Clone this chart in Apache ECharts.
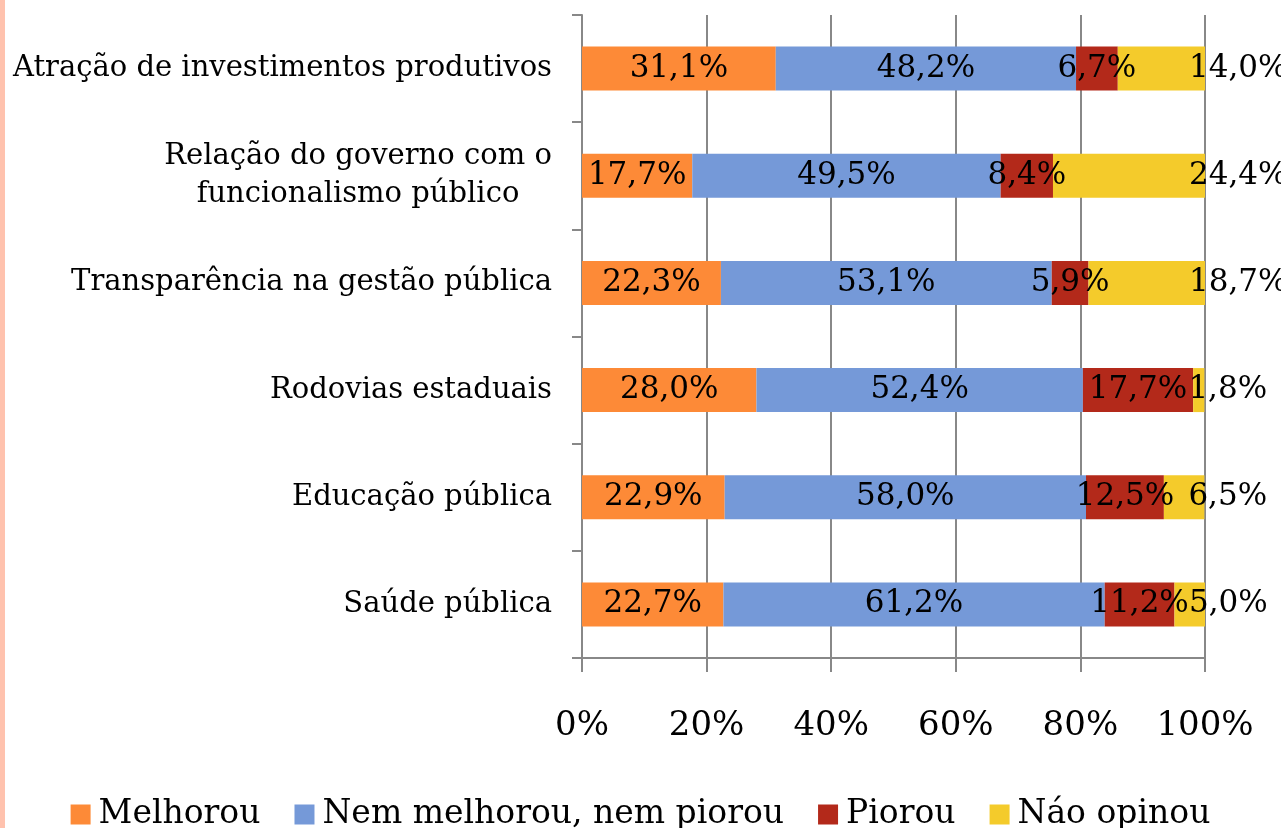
<!DOCTYPE html>
<html>
<head>
<meta charset="utf-8">
<script src="https://cdn.jsdelivr.net/npm/echarts@6/dist/echarts.min.js"></script>
<style>
  html, body { margin: 0; padding: 0; background: #fff; }
  #chart { width: 1281px; height: 828px; }
</style>
</head>
<body>
<div id="chart"></div>
<script>
// categorias, de cima para baixo
const categories = [
  'Atração de investimentos produtivos',
  'Relação do governo com o\nfuncionalismo público',
  'Transparência na gestão pública',
  'Rodovias estaduais',
  'Educação pública',
  'Saúde pública'
]
const seriesNames = ['Melhorou', 'Nem melhorou, nem piorou', 'Piorou', 'Náo opinou']
const melhorou = [31.1, 17.7, 22.3, 28.0, 22.9, 22.7]
const nem = [48.2, 49.5, 53.1, 52.4, 58.0, 61.2]
const piorou = [6.7, 8.4, 5.9, 17.7, 12.5, 11.2]
const naoOpinou = [14.0, 24.4, 18.7, 1.8, 6.5, 5.0]
const xTicks = [0, 20, 40, 60, 80, 100]

const colors = ['#FD8A37', '#7599D8', '#B3291A', '#F4CB2B']
const font = 'DejaVu Serif'

const fmt = p => p.value.toFixed(1).replace('.', ',') + '%'

const mChart = echarts.init(document.getElementById('chart'))

const makeSeries = (name, data, i) => ({
  name: name,
  type: 'bar',
  stack: 'total',
  barWidth: 44,
  itemStyle: { color: colors[i] },
  label: {
    show: true,
    position: i === 3 ? 'right' : 'inside',
    distance: -16,
    formatter: fmt,
    color: '#000',
    fontFamily: font,
    fontSize: 31
  },
  data: data
})

const options = {
  animation: false,
  graphic: [
    { type: 'rect', shape: { x: 0, y: 0, width: 5, height: 828 }, style: { fill: '#FFC2AE' } }
  ],
  legend: {
    data: seriesNames,
    bottom: -8,
    left: 'center',
    itemWidth: 20,
    itemHeight: 20,
    itemGap: 34,
    icon: 'rect',
    textStyle: { fontFamily: font, fontSize: 33, color: '#000', padding: [0, 0, 0, 3] }
  },
  grid: { left: 582, right: 76, top: 15, bottom: 170 },
  xAxis: {
    type: 'value',
    min: 0,
    max: 100,
    interval: 20,
    axisLine: { show: true, lineStyle: { color: '#888', width: 2 } },
    axisTick: { show: true, length: 14, lineStyle: { color: '#888', width: 2 } },
    splitLine: { show: true, lineStyle: { color: '#888', width: 2 } },
    axisLabel: {
      margin: 51,
      color: '#000',
      fontFamily: font,
      fontSize: 34,
      formatter: v => (xTicks.indexOf(v) >= 0 ? v + '%' : '')
    }
  },
  yAxis: {
    type: 'category',
    inverse: true,
    data: categories,
    axisLine: { show: true, lineStyle: { color: '#888', width: 2 } },
    axisTick: { show: true, length: 10, alignWithLabel: false, lineStyle: { color: '#888', width: 2 } },
    axisLabel: {
      margin: 30,
      color: '#000',
      fontFamily: font,
      fontSize: 29,
      lineHeight: 38,
      formatter: v => (v.indexOf('\n') >= 0
        ? v.split('\n').map(s => '{c|' + s + '}').join('\n')
        : v),
      rich: {
        c: { width: 388, align: 'center', fontFamily: font, fontSize: 29, lineHeight: 38, color: '#000' }
      }
    }
  },
  series: [
    makeSeries(seriesNames[0], melhorou, 0),
    makeSeries(seriesNames[1], nem, 1),
    makeSeries(seriesNames[2], piorou, 2),
    makeSeries(seriesNames[3], naoOpinou, 3)
  ]
}
mChart.setOption(options)
</script>
</body>
</html>
